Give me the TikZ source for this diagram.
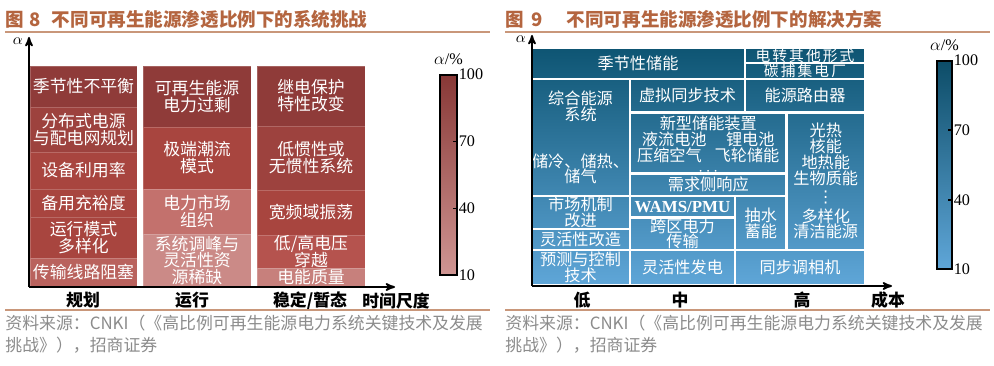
\documentclass[tikz,border=0pt]{standalone}
\usepackage{fontspec}
\setmainfont{Liberation Serif}
\newfontfamily\cjk{Noto Sans CJK SC}
\newfontfamily\dejavu{DejaVu Sans}
\usetikzlibrary{arrows,calc,positioning,fit}
\newcommand\tightlines{\lineskiplimit=-20pt\relax}

\definecolor{titlebrown}{HTML}{B4653F}
\definecolor{rulebrown}{HTML}{C9977A}
\definecolor{srcgrey}{HTML}{8C8C8C}
\definecolor{redA}{HTML}{8F3B39}
\definecolor{redB}{HTML}{9D423E}
\definecolor{redC}{HTML}{A8453F}
\definecolor{redD}{HTML}{B5534E}
\definecolor{redE}{HTML}{B9625D}
\definecolor{pinkA}{HTML}{C3716D}
\definecolor{pinkB}{HTML}{CB8A87}
\definecolor{pinkC}{HTML}{C7807C}
\definecolor{blueA}{HTML}{0E5573}
\definecolor{blueM}{HTML}{2E7EAC}
\definecolor{blueF}{HTML}{5FA6D8}

\begin{document}
\begin{tikzpicture}[x=0.25mm, y=-0.25mm, >=stealth', semithick,
    figtitle/.style={anchor=west, inner sep=0pt, text=titlebrown, font=\cjk\bfseries\fontsize{13.2}{15}\selectfont},
    source/.style={anchor=west, inner sep=0pt, text=srcgrey, font=\cjk\fontsize{12}{14}\selectfont},
    cellbox/.style n args={4}{at={($(#1,#2)!.5!(#3,#4)$)}, minimum width={(#3-#1)*0.25mm}, minimum height={(#4-#2)*0.25mm}},
    lcell/.style={inner sep=0pt, draw=white, draw opacity=0.2, line width=0.2mm, text=white, align=center, font=\cjk\fontsize{12}{12}\selectfont\tightlines},
    rcell/.style={inner sep=0pt, draw=white, line width=0.7mm, text=white, align=center, font=\cjk\fontsize{11.5}{11.2}\selectfont\tightlines},
    thincell/.style={font=\cjk\fontsize{10.5}{10.5}\selectfont\addfontfeatures{LetterSpace=14}, text height=8.2pt, text depth=0.2pt},
    axlabel/.style={font=\cjk\bfseries\fontsize{12}{14}\selectfont},
    barnum/.style={anchor=west, inner sep=0.5pt, font=\fontsize{11.5}{13}\selectfont},
    cbar/.style={inner sep=0pt, draw=black, line width=0.35mm},
    axisline/.style={->, line width=0.45mm}]
  \path[use as bounding box, fill=white] (0,0) rectangle (994,366);

  % ---- figure 8: challenges
  \node[figtitle] (title8) at (5,19) {图\hspace{0.3em}8\hspace{0.6em}不同可再生能源渗透比例下的系统挑战};
  \draw[rulebrown, line width=0.3mm] (5,32) -- (490,32) (5,310) -- (490,310);

  \node[lcell, fill=redA, cellbox={30}{66}{137}{107}]    (plan1) {季节性不平衡};
  \node[lcell, fill=redB, cellbox={30}{107}{137}{152}]   (plan2) {分布式电源\\与配电网规划};
  \node[lcell, fill=redC, cellbox={30}{152}{137}{189}]   (plan3) {设备利用率};
  \node[lcell, fill=redC, cellbox={30}{189}{137}{217}]   (plan4) {备用充裕度};
  \node[lcell, fill=redC, cellbox={30}{217}{137}{258}]   (plan5) {运行模式\\多样化};
  \node[lcell, fill=redE, cellbox={30}{258}{137}{287}]   (plan6) {传输线路阻塞};

  \node[lcell, fill=redA, cellbox={143}{66}{251}{127}]   (oper1) {可再生能源\\电力过剩};
  \node[lcell, fill=redC, cellbox={143}{127}{251}{189}]  (oper2) {极端潮流\\模式};
  \node[lcell, fill=pinkA, cellbox={143}{189}{251}{234}] (oper3) {电力市场\\组织};
  \node[lcell, fill=pinkB, cellbox={143}{234}{251}{287}] (oper4) {系统调峰与\\灵活性资\\源稀缺};

  \node[lcell, fill=redA, cellbox={257}{66}{365}{126}]   (stab1) {继电保护\\特性改变};
  \node[lcell, fill=redB, cellbox={257}{126}{365}{190}]  (stab2) {低惯性或\\无惯性系统};
  \node[lcell, fill=redC, cellbox={257}{190}{365}{235}]  (stab3) {宽频域振荡};
  \node[lcell, fill=redD, cellbox={257}{235}{365}{268}]  (stab4) {低/高电压\\穿越};
  \node[lcell, fill=pinkC, cellbox={257}{268}{365}{287}] (stab5) {电能质量};

  \coordinate (o8) at (29,287);
  \coordinate (ytip8) at (29,37);
  \coordinate (xtip8) at (395,287);
  \draw[axisline] (o8) -- (ytip8);
  \draw[axisline] (o8) -- (xtip8);
  \node[left=0.3mm of ytip8, yshift=-1mm, font=\fontsize{11}{13}\selectfont] (alpha8) {$\alpha$};

  \node[axlabel] (xplan) at (83,300)  {规划};
  \node[axlabel] (xoper) at (192,300) {运行};
  \node[axlabel] (xstab) at (310,301) {稳定/暂态};
  \node[axlabel] (xtime) at (396,301) {时间尺度};

  \node[cbar, top color=redA!95!black, bottom color=pinkB!90!white, fit={(440,75) (457,275)}] (bar8) {};
  \node[above=1mm of bar8, font=\fontsize{11.5}{13}\selectfont] (unit8) {$\alpha$/\%};
  \node[barnum] (v8a) at (bar8.north east) {100};
  \node[barnum] (v8b) at ($(bar8.north east)!1/3!(bar8.south east)$) {70};
  \node[barnum] (v8c) at ($(bar8.north east)!2/3!(bar8.south east)$) {40};
  \node[barnum] (v8d) at (bar8.south east) {10};
  \draw[line width=0.35mm] (v8a.west) -- ++(-5,0) (v8b.west) -- ++(-5,0)
                           (v8c.west) -- ++(-5,0) (v8d.west) -- ++(-5,0);

  \node[source] (src8a) at (5,323) {资料来源：CNKI（《高比例可再生能源电力系统关键技术及发展};
  \node[source] (src8b) at (5,345) {挑战》），招商证券};

  % ---- figure 9: solutions
  \node[figtitle] (title9) at (505,19) {图\hspace{0.4em}9\hspace{1.3em}不同可再生能源渗透比例下的解决方案};
  \draw[rulebrown, line width=0.3mm] (505,32) -- (990,32) (505,310) -- (990,310);

  \shade[top color=blueA, middle color=blueM, bottom color=blueF] (531,48) rectangle (865,285);

  \node[rcell, cellbox={531}{48}{745}{79}]        (seasonal) {季节性储能};
  \node[rcell, thincell, cellbox={745}{48}{865}{63}] (powerx) {电转其他形式};
  \node[rcell, thincell, cellbox={745}{63}{865}{79}] (ccs) {碳捕集电厂};
  \node[rcell, cellbox={531}{79}{630}{196}]       (ies) {综合能源\\系统\\[22pt]储冷、储热、\\储气};
  \node[rcell, cellbox={630}{79}{745}{112.5}]     (vsg) {虚拟同步技术};
  \node[rcell, cellbox={745}{79}{865}{112.5}]     (router) {能源路由器};
  \node[rcell, cellbox={630}{112.5}{786.5}{173.5}] (newstore) {新型储能装置\\[0.8pt]液流电池\hspace{1.2em}锂电池\\压缩空气\hspace{0.8em}飞轮储能\\[-4.9pt]\smash{\raisebox{-3.5pt}{$\cdots$}}};
  \node[rcell, cellbox={630}{173.5}{786.5}{196}]  (demand) {需求侧响应};
  \node[rcell, cellbox={786.5}{112.5}{865}{250}]  (clean) {光热\\核能\\地热能\\生物质能\\[1.5pt]{\dejavu ⋮}\\[3pt]多样化\\清洁能源};
  \node[rcell, cellbox={531}{196}{630}{229}]      (market) {市场机制\\改进};
  \node[rcell, cellbox={531}{229}{630}{250}]      (retrofit) {灵活性改造};
  \node[rcell, cellbox={531}{250}{630}{285}]      (forecast) {预测与控制\\技术};
  \node[rcell, cellbox={630}{196}{735}{217.5}, font=\bfseries\fontsize{12}{12}\selectfont] (wams) {WAMS/PMU};
  \node[rcell, cellbox={630}{217.5}{735}{250}]    (transmit) {跨区电力\\传输};
  \node[rcell, cellbox={630}{250}{735}{285}]      (flexgen) {灵活性发电};
  \node[rcell, cellbox={735}{196}{786.5}{250}]    (pumped) {抽水\\蓄能};
  \node[rcell, cellbox={735}{250}{865}{285}]      (syncon) {同步调相机};

  \coordinate (o9) at (532,286);
  \coordinate (ytip9) at (532,35);
  \coordinate (xtip9) at (892,286);
  \draw[axisline] (o9) -- (ytip9);
  \draw[axisline] (o9) -- (xtip9);
  \node[left=0.3mm of ytip9, yshift=-1mm, font=\fontsize{11}{13}\selectfont] (alpha9) {$\alpha$};

  \node[axlabel] (xlow)  at (582,300) {低};
  \node[axlabel] (xmid)  at (680,300) {中};
  \node[axlabel] (xhigh) at (802,300) {高};
  \node[axlabel] (xcost) at (888,300) {成本};

  \node[cbar, top color=blueA!90!black, bottom color=blueF, fit={(937,61) (952,269)}] (bar9) {};
  \node[above=1mm of bar9, font=\fontsize{11.5}{13}\selectfont] (unit9) {$\alpha$/\%};
  \node[barnum] (v9a) at (bar9.north east) {100};
  \node[barnum] (v9b) at ($(bar9.north east)!1/3!(bar9.south east)$) {70};
  \node[barnum] (v9c) at ($(bar9.north east)!2/3!(bar9.south east)$) {40};
  \node[barnum] (v9d) at (bar9.south east) {10};
  \draw[line width=0.35mm] (v9a.west) -- ++(-5,0) (v9b.west) -- ++(-5,0)
                           (v9c.west) -- ++(-5,0) (v9d.west) -- ++(-5,0);

  \node[source] (src9a) at (505,323) {资料来源：CNKI（《高比例可再生能源电力系统关键技术及发展};
  \node[source] (src9b) at (505,345) {挑战》），招商证券};
\end{tikzpicture}
\end{document}
